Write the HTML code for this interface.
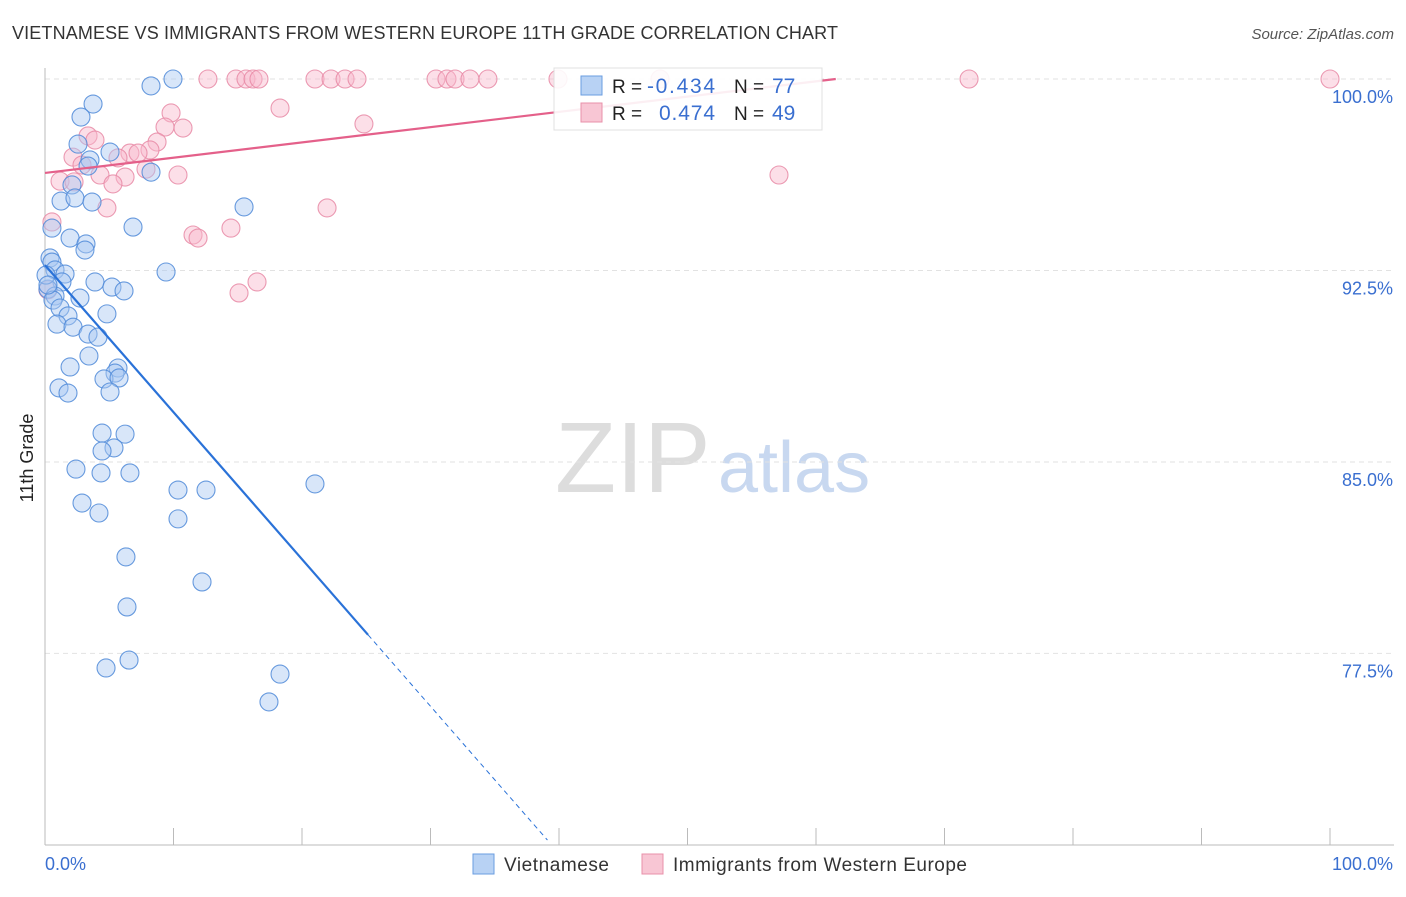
<!DOCTYPE html>
<html><head><meta charset="utf-8"><style>
body{margin:0;background:#fff;font-family:"Liberation Sans",sans-serif}
svg text{font-family:"Liberation Sans",sans-serif}
</style></head><body>
<svg id="chart" width="1406" height="892">
<text x="12" y="39" font-size="18" fill="#333" textLength="826">VIETNAMESE VS IMMIGRANTS FROM WESTERN EUROPE 11TH GRADE CORRELATION CHART</text>
<text x="1394" y="39" font-size="15" fill="#555" font-style="italic" text-anchor="end">Source: ZipAtlas.com</text>
<text x="33" y="458" font-size="18" fill="#222" transform="rotate(-90 33 458)" text-anchor="middle">11th Grade</text>
<text x="555" y="492" font-size="100" fill="#ddd" font-family="Liberation Serif">ZIP</text>
<text x="718" y="492" font-size="72" fill="#c8d8f0">atlas</text>
<g id="grid"></g><g id="axes"></g><g id="pts"></g><g id="lines"></g>
<g>
<rect x="554" y="68" width="268" height="62" fill="#fff" stroke="#ddd" opacity="0.9"/>
<rect x="581" y="76" width="21" height="19" fill="#b8d2f4" stroke="#6a9de0"/>
<rect x="581" y="103" width="21" height="19" fill="#f8c6d4" stroke="#e890aa"/>
<text x="612" y="93" font-size="19" fill="#222">R = </text><text x="647" y="93" font-size="21" fill="#3a6fd0" textLength="68">-0.434</text>
<text x="734" y="93" font-size="19" fill="#222">N = </text><text x="772" y="93" font-size="21" fill="#3a6fd0">77</text>
<text x="612" y="120" font-size="19" fill="#222">R = </text><text x="659" y="120" font-size="21" fill="#3a6fd0" textLength="56">0.474</text>
<text x="734" y="120" font-size="19" fill="#222">N = </text><text x="772" y="120" font-size="21" fill="#3a6fd0">49</text>
</g>
<g>
<rect x="473" y="854" width="21" height="20" fill="#b8d2f4" stroke="#6a9de0"/>
<text x="504" y="871" font-size="19" fill="#333" textLength="105">Vietnamese</text>
<rect x="642" y="854" width="21" height="20" fill="#f8c6d4" stroke="#e890aa"/>
<text x="673" y="871" font-size="19" fill="#333" textLength="294">Immigrants from Western Europe</text>
</g>
</svg>
<script>
const yTicks=[100,92.5,85,77.5];
const yTickLabels=["100.0%","92.5%","85.0%","77.5%"];
const xLabels=["0.0%","100.0%"];
const blueX=[9.96,8.25,3.74,2.80,2.57,5.06,3.50,3.35,8.25,2.10,1.25,2.33,3.66,15.49,6.85,0.54,1.95,3.19,3.11,0.39,0.54,0.78,9.42,1.56,3.89,1.32,5.21,6.15,0.23,0.78,2.72,0.62,1.17,4.82,1.79,0.93,2.18,3.35,4.12,3.42,1.95,5.68,5.45,4.59,5.76,1.09,1.79,5.06,4.44,6.23,5.37,4.44,2.41,4.36,6.61,10.35,12.53,21.01,2.88,4.20,10.35,6.30,12.22,6.38,6.54,4.75,18.29,17.43,0.08,0.23];
const blueY=[100,99.73,99.02,98.51,97.45,97.14,96.83,96.59,96.35,95.85,95.22,95.34,95.18,94.99,94.20,94.16,93.77,93.54,93.30,92.99,92.83,92.52,92.44,92.36,92.05,92.05,91.85,91.70,91.77,91.50,91.42,91.34,91.03,90.80,90.72,90.40,90.28,90.01,89.89,89.15,88.72,88.68,88.48,88.25,88.29,87.90,87.70,87.74,86.13,86.09,85.55,85.43,84.72,84.57,84.57,83.90,83.90,84.14,83.39,83.00,82.77,81.28,80.30,79.32,77.24,76.93,76.69,75.60,92.32,91.93];
const pinkX=[12.68,14.86,15.64,16.19,16.65,21.01,22.26,23.35,24.28,30.43,31.28,31.91,33.07,34.47,39.92,47.86,71.91,100,18.29,9.81,9.34,10.74,24.82,8.72,3.35,3.89,8.17,6.61,7.24,2.18,2.88,5.68,4.28,6.23,7.86,10.35,1.17,2.26,5.29,4.82,21.95,57.12,0.54,11.52,11.91,14.47,15.10,16.50,0.23];
const pinkY=[100,100,100,100,100,100,100,100,100,100,100,100,100,100,100,100,100,100,98.86,98.67,98.12,98.08,98.24,97.53,97.77,97.61,97.22,97.10,97.10,96.94,96.63,96.91,96.24,96.16,96.47,96.24,96.00,95.97,95.89,94.95,94.95,96.24,94.40,93.89,93.77,94.16,91.62,92.05,91.74];
const blueTrend=[92.71,-0.576];
const pinkTrend=[96.32,0.0598];
const X0=45,X1=1330,Y100=79,PXY=25.53;
const sx=v=>X0+(X1-X0)*v/100;
const sy=v=>Y100+(100-v)*PXY;
const NS="http://www.w3.org/2000/svg";
function mk(t,a,p){const e=document.createElementNS(NS,t);for(const k in a)e.setAttribute(k,a[k]);p.appendChild(e);return e;}
const grid=document.getElementById('grid'),axes=document.getElementById('axes'),pts=document.getElementById('pts'),lines=document.getElementById('lines');
yTicks.forEach((t,i)=>{
 const l=mk('line',{x1:X0,x2:1394,y1:sy(t),y2:sy(t),stroke:'#e2e2e2','stroke-dasharray':'5,4'},grid);
 
 
 const tx=mk('text',{x:1393,y:sy(t)+24,'font-size':18,fill:'#3a6fd0','text-anchor':'end'},axes);
 tx.textContent=yTickLabels[i];
 
 
});
const ax=mk('line',{x1:X0,x2:1394,y1:845,y2:845,stroke:'#bbb'},axes);


const ay=mk('line',{x1:X0,x2:X0,y1:68,y2:845,stroke:'#bbb'},axes);


for(let i=0;i<=10;i++){const tk=mk('line',{x1:sx(i*10),x2:sx(i*10),y1:828,y2:845,stroke:'#bbb'},axes);
 
 }
const xl0=mk('text',{x:45,y:870,'font-size':18,fill:'#3a6fd0'},axes);xl0.textContent=xLabels[0];


const xl1=mk('text',{x:1393,y:870,'font-size':18,fill:'#3a6fd0','text-anchor':'end'},axes);xl1.textContent=xLabels[1];


function dots(xs,ys,fill,stroke,name){xs.forEach((x,i)=>{const c=mk('circle',{cx:sx(x),cy:sy(ys[i]),r:9,fill:fill,'fill-opacity':0.45,stroke:stroke,'stroke-width':1.1,'stroke-opacity':0.85},pts);
 
 });}
dots(pinkX,pinkY,'#f8b8cb','#e88aa6','point-western-europe');
dots(blueX,blueY,'#a9c8f2','#4f8ad8','point-vietnamese');
const bx1=25.14,bx2=39.1;
const bl=mk('line',{x1:sx(0),y1:sy(blueTrend[0]),x2:sx(bx1),y2:sy(blueTrend[0]+blueTrend[1]*bx1),stroke:'#2a72d8','stroke-width':2.2},lines);


const bd=mk('line',{x1:sx(bx1),y1:sy(blueTrend[0]+blueTrend[1]*bx1),x2:sx(bx2),y2:sy(blueTrend[0]+blueTrend[1]*bx2),stroke:'#2a72d8','stroke-width':1,'stroke-dasharray':'5,4'},lines);


const pxEnd=(100-pinkTrend[0])/pinkTrend[1];
const pl=mk('line',{x1:sx(0),y1:sy(pinkTrend[0]),x2:sx(pxEnd),y2:sy(100),stroke:'#e4608a','stroke-width':2.2},lines);


</script>
</body></html>
